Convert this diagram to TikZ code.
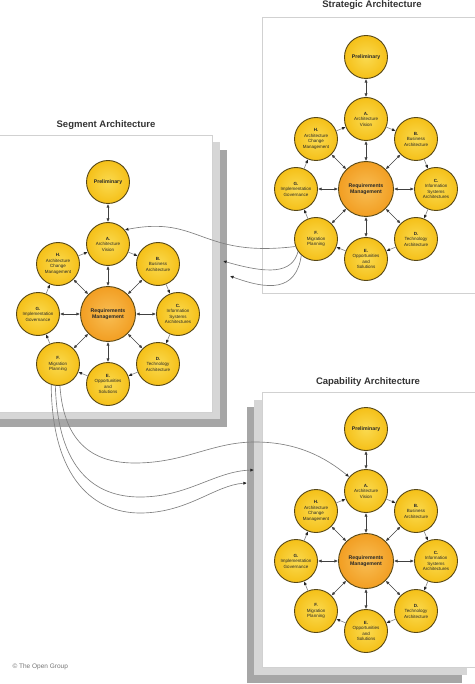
\documentclass[tikz,border=0pt]{standalone}
\usepackage{fontspec}
\setmainfont{Liberation Sans}
\usetikzlibrary{calc,positioning,arrows.meta}
\definecolor{phasefill}{RGB}{245,192,24}
\definecolor{phaseglow}{RGB}{250,218,80}
\definecolor{reqfill}{RGB}{242,158,34}
\definecolor{reqglow}{RGB}{248,190,84}
\definecolor{phaserim}{RGB}{88,72,22}
\definecolor{wire}{RGB}{128,128,128}
\definecolor{sheetlight}{RGB}{214,214,214}
\definecolor{sheetdark}{RGB}{166,166,166}
\tikzset{
phase/.style={
  circle,
  draw=phaserim,
  line width=0.9pt,
  inner color=phaseglow,
  outer color=phasefill,
  minimum size=43pt,
  inner sep=0pt,
  align=center,
  text=black!85,
  font=\fontsize{4.5}{5.5}\selectfont
  },
reqphase/.style={
  phase,
  inner color=reqglow,
  outer color=reqfill,
  minimum size=55pt,
  font=\fontsize{5.2}{6.2}\selectfont\bfseries
  },
spoke/.style={<->,draw=black!75,line width=0.6pt},
ringarrow/.style={-{Latex[length=3.6pt,width=3.2pt,color=black!85]},draw=wire,line width=0.6pt},
link/.style={-{Latex[length=3.6pt,width=3.2pt,color=black!85]},draw=wire,line width=0.65pt},
sheet/.style={fill=white,draw=black!18,line width=0.8pt},
paneltitle/.style={font=\fontsize{9.5}{11}\selectfont\bfseries,text=black!80}
}
\newcommand{\admcycle}{
  \node[reqphase] (RM) at (0,0) {Requirements\\Management};
  \node[phase] (A) at (0,-70) {\textbf{A.}\\Architecture\\Vision};
  \node[phase] (B) at (50,-50) {\textbf{B.}\\Business\\Architecture};
  \node[phase] (C) at (70,0) {\textbf{C.}\\Information\\Systems\\Architectures};
  \node[phase] (D) at (50,50) {\textbf{D.}\\Technology\\Architecture};
  \node[phase] (E) at (0,70) {\textbf{E.}\\Opportunities\\and\\Solutions};
  \node[phase] (F) at (-50,50) {\textbf{F.}\\Migration\\Planning};
  \node[phase] (G) at (-70,0) {\textbf{G.}\\Implementation\\Governance};
  \node[phase] (H) at (-50,-50) {\textbf{H.}\\Architecture\\Change\\Management};
  \node[phase,font=\fontsize{5.2}{6}\selectfont\bfseries] (P) at (0,-132) {Preliminary};
  \draw[spoke] (P) -- (A);
  \foreach \n in {A,B,C,D,E,F,G,H}
    \draw[spoke] (RM) -- (\n);
  \foreach \a/\b in {A/B,B/C,C/D,D/E,E/F,F/G,G/H,H/A}
    \draw[ringarrow] (\a) -- (\b);
}

\begin{document}
\begin{tikzpicture}[x=1pt,y=-1pt,>={Latex[length=3.6pt,width=3.2pt]}]
  \useasboundingbox (0,0) rectangle (474,684);
  % strategic
  \draw[sheet] (262,17) rectangle (490,293);
  \node[paneltitle] (str-title) at (372,5) {Strategic Architecture};
  % segment
  \fill[sheetdark] (-10,150) rectangle (227,427);
  \fill[sheetlight] (-10,142) rectangle (220,419);
  \draw[sheet] (-10,135) rectangle (212,412);
  \node[paneltitle] (seg-title) at (106,125) {Segment Architecture};
  % capability
  \fill[sheetdark] (247,407) rectangle (462,683);
  \fill[sheetlight] (254,400) rectangle (467,675);
  \draw[sheet] (262,392) rectangle (490,667);
  \node[paneltitle] (cap-title) at (368,382) {Capability Architecture};

  \begin{scope}[shift={(366,189)},name prefix=str-]
    \admcycle
  \end{scope}
  \begin{scope}[shift={(108,314)},name prefix=seg-]
    \admcycle
  \end{scope}
  \begin{scope}[shift={(366,561)},name prefix=cap-]
    \admcycle
  \end{scope}

  \coordinate (seg-in1) at (223,261);
  \coordinate (seg-in2) at (230,276);
  \coordinate (cap-in1) at (254,470);
  \coordinate (cap-in2) at (247,483);
  \draw[link] (str-F.200) .. controls (200,258) and (200,215) .. (seg-A.40);
  \draw[link] (str-F.215) .. controls (292,274) and (268,274) .. (seg-in1);
  \draw[link] (str-F.228) .. controls (296,292) and (268,290) .. (seg-in2);
  \draw[link] (seg-F.-85) .. controls (64,445) and (95,463) .. (135,463)
    .. controls (185,463) and (212,442) .. (255,442)
    .. controls (298,442) and (326,458) .. (cap-A.140);
  \draw[link] (seg-F.-97) .. controls (58,470) and (95,497) .. (140,497)
    .. controls (188,497) and (215,471) .. (cap-in1);
  \draw[link] (seg-F.-108) .. controls (52,480) and (95,513) .. (140,513)
    .. controls (188,513) and (215,485) .. (cap-in2);

  \node[anchor=west,text=black!55,font=\fontsize{6.5}{8}\selectfont] (copy) at (9,667) {\textcopyright\ The Open Group};
\end{tikzpicture}
\end{document}
